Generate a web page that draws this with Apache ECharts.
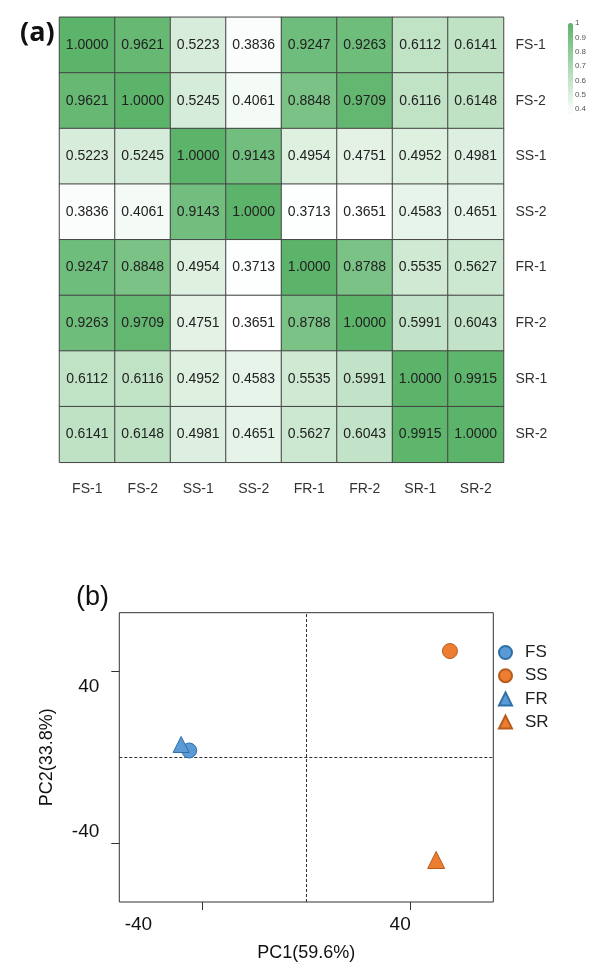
<!DOCTYPE html>
<html>
<head>
<meta charset="utf-8">
<script src="https://cdn.jsdelivr.net/npm/echarts@6/dist/echarts.min.js"></script>
<style>
  html, body { margin: 0; padding: 0; background: #fff; }
  #main { width: 589px; height: 963px; }
</style>
</head>
<body>
<div id="main"></div>
<script>
// 样本名
const samples = ["FS-1", "FS-2", "SS-1", "SS-2", "FR-1", "FR-2", "SR-1", "SR-2"];
// 相关系数矩阵 (按行)
const corrFS1 = [1.0000, 0.9621, 0.5223, 0.3836, 0.9247, 0.9263, 0.6112, 0.6141];
const corrFS2 = [0.9621, 1.0000, 0.5245, 0.4061, 0.8848, 0.9709, 0.6116, 0.6148];
const corrSS1 = [0.5223, 0.5245, 1.0000, 0.9143, 0.4954, 0.4751, 0.4952, 0.4981];
const corrSS2 = [0.3836, 0.4061, 0.9143, 1.0000, 0.3713, 0.3651, 0.4583, 0.4651];
const corrFR1 = [0.9247, 0.8848, 0.4954, 0.3713, 1.0000, 0.8788, 0.5535, 0.5627];
const corrFR2 = [0.9263, 0.9709, 0.4751, 0.3651, 0.8788, 1.0000, 0.5991, 0.6043];
const corrSR1 = [0.6112, 0.6116, 0.4952, 0.4583, 0.5535, 0.5991, 1.0000, 0.9915];
const corrSR2 = [0.6141, 0.6148, 0.4981, 0.4651, 0.5627, 0.6043, 0.9915, 1.0000];
const corrRows = [corrFS1, corrFS2, corrSS1, corrSS2, corrFR1, corrFR2, corrSR1, corrSR2];
// 色标刻度
const scaleTicks = [0.4, 0.5, 0.6, 0.7, 0.8, 0.9, 1];

// PCA 得分
const groups = ["FS", "SS", "FR", "SR"];
const pc1 = [-45.1, 55.3, -48.2, 50.0];
const pc2 = [3.2, 49.6, 6.0, -47.9];
const pcaTicks = [-40, 40];

const FONT = "Liberation Sans";
const blue = "#5b9bd5", orange = "#ed7d31";
const groupStyle = {
	FS: { symbol: "circle", size: 15, color: blue, border: "#2f6fa8" },
	SS: { symbol: "circle", size: 15, color: orange, border: "#b85c1c" },
	FR: { symbol: "triangle", size: 16, color: blue, border: "#2f6fa8" },
	SR: { symbol: "triangle", size: 17, color: orange, border: "#b85c1c" },
};

let heatData = [];
corrRows.forEach((row, y) => {
	row.forEach((v, x) => heatData.push([x, y, v]));
});
let vMin = Math.min(...heatData.map(d => d[2]));

let chart = echarts.init(document.getElementById("main"), null, { renderer: "canvas" });

let pcaSeries = groups.map((g, i) => {
	let st = groupStyle[g];
	let s = {
		name: g,
		type: "scatter",
		xAxisIndex: 1,
		yAxisIndex: 1,
		symbol: st.symbol,
		symbolSize: st.size,
		itemStyle: { color: st.color, borderColor: st.border, borderWidth: 1, opacity: 1 },
		data: [[pc1[i], pc2[i]]],
		z: 3,
	};
	if (i === 0) {
		// 零线 (虚线)
		s.markLine = {
			silent: true,
			symbol: "none",
			label: { show: false },
			lineStyle: { type: [3, 2], color: "#333", width: 1 },
			data: [{ xAxis: 0 }, { yAxis: 0 }],
			z: 1,
		};
	}
	return s;
});

let option = {
	backgroundColor: "#fff",
	textStyle: { fontFamily: FONT },
	animation: false,
	title: [
		{ text: "(a)", left: 15, top: 15, textStyle: { fontFamily: "Open Sans", fontWeight: "bold", fontSize: 27, color: "#111" } },
		{ text: "(b)", left: 71, top: 579, textStyle: { fontFamily: FONT, fontWeight: "normal", fontSize: 27, color: "#111" } },
	],
	grid: [
		{ left: 59.5, top: 17.3, width: 444, height: 445 },
		{ left: 119.3, top: 612.7, width: 374, height: 289.6, show: true, borderColor: "#333", borderWidth: 1, backgroundColor: "transparent" },
		{ left: 568, top: 23, width: 5, height: 91 },
	],
	visualMap: {
		type: "continuous",
		seriesIndex: 0,
		min: vMin,
		max: 1,
		left: 568,
		top: 23,
		itemWidth: 5,
		itemHeight: 91,
		padding: 0,
		text: ["", ""],
		showLabel: false,
		calculable: false,
		hoverLink: false,
		inRange: { color: ["#ffffff", "#5cb46a"] },
	},
	legend: {
		orient: "vertical",
		left: 498,
		top: 644,
		padding: 0,
		itemWidth: 13,
		itemHeight: 13,
		itemGap: 6.2,
		data: groups,
		textStyle: { fontFamily: FONT, fontSize: 17, color: "#222", padding: [0, 0, 0, 8] },
	},
	xAxis: [
		{
			gridIndex: 0,
			type: "category",
			data: samples,
			axisLine: { show: false },
			axisTick: { show: false },
			splitLine: { show: false },
			axisLabel: { fontSize: 14, color: "#333", margin: 20 },
		},
		{
			gridIndex: 1,
			type: "value",
			min: -72,
			max: 72,
			axisLine: { show: false, onZero: false },
			splitLine: { show: false },
			axisTick: { show: true, inside: false, customValues: pcaTicks, length: 8, lineStyle: { color: "#333" } },
			axisLabel: {
				customValues: pcaTicks,
				margin: 13,
				color: "#111",
				fontSize: 19,
				formatter: v => (v < 0 ? "{l|" + v + "}" : "{r|" + v + "}"),
				rich: {
					l: { fontSize: 19, color: "#111", padding: [0, 128, 0, 0] },
					r: { fontSize: 19, color: "#111", padding: [0, 20, 0, 0] },
				},
			},
			name: "PC1(59.6%)",
			nameLocation: "middle",
			nameGap: 42,
			nameTextStyle: { fontSize: 18, color: "#111" },
		},
		{
			gridIndex: 2,
			type: "value",
			show: false,
		},
	],
	yAxis: [
		{
			gridIndex: 0,
			type: "category",
			data: samples,
			inverse: true,
			position: "right",
			axisLine: { show: false },
			axisTick: { show: false },
			splitLine: { show: false },
			axisLabel: { fontSize: 14, color: "#333", margin: 12 },
		},
		{
			gridIndex: 1,
			type: "value",
			min: -67.5,
			max: 67.5,
			axisLine: { show: false, onZero: false },
			splitLine: { show: false },
			axisTick: { show: true, inside: false, customValues: pcaTicks, length: 8, lineStyle: { color: "#333" } },
			axisLabel: {
				customValues: pcaTicks,
				margin: 20,
				color: "#111",
				fontSize: 19,
				formatter: v => (v < 0 ? "{l|" + v + "}" : "{r|" + v + "}"),
				rich: {
					l: { fontSize: 19, color: "#111", padding: [0, 0, 22, 0] },
					r: { fontSize: 19, color: "#111", padding: [30, 0, 0, 0] },
				},
			},
			name: "PC2(33.8%)",
			nameLocation: "middle",
			nameGap: 63,
			nameTextStyle: { fontSize: 18, color: "#111" },
		},
		{
			gridIndex: 2,
			type: "value",
			min: vMin,
			max: 1,
			position: "right",
			axisLine: { show: false },
			axisTick: { show: false },
			splitLine: { show: false },
			axisLabel: {
				customValues: scaleTicks,
				margin: 2,
				fontSize: 8,
				color: "#555",
				formatter: v => (v === 1 ? "1" : v.toFixed(1)),
			},
		},
	],
	series: [
		{
			type: "heatmap",
			xAxisIndex: 0,
			yAxisIndex: 0,
			data: heatData,
			itemStyle: { borderColor: "#444", borderWidth: 1 },
			label: {
				show: true,
				fontFamily: FONT,
				fontSize: 14,
				color: "#222",
				formatter: p => p.value[2].toFixed(4),
			},
			emphasis: { disabled: true },
		},
		...pcaSeries,
		{
			type: "scatter",
			xAxisIndex: 2,
			yAxisIndex: 2,
			data: [],
		},
	],
};
chart.setOption(option);
</script>
</body>
</html>
